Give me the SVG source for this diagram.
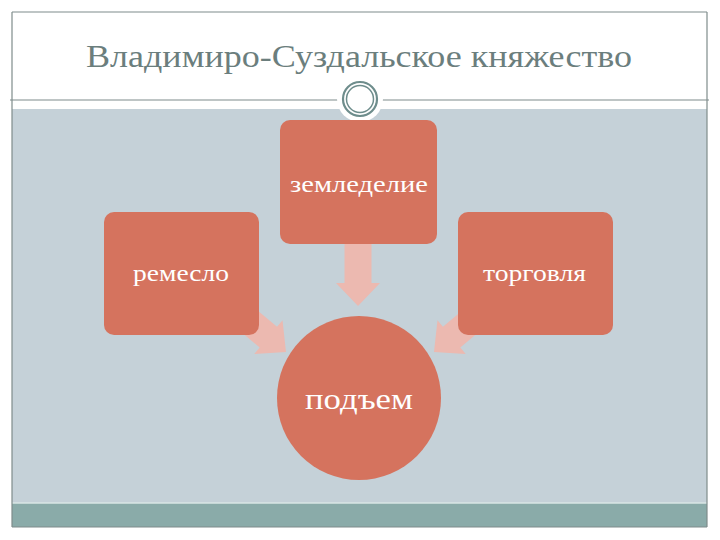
<svg xmlns="http://www.w3.org/2000/svg" width="720" height="540" viewBox="0 0 720 540">
<style>
.node{fill:#D5735E}
.arrow{fill:#ECB9B0}
.lbl{font-family:"Liberation Serif",serif;fill:#FFFFFF}
.frame{stroke:#7F8C8B;stroke-width:1.2;fill:none}
</style>
<defs>
<path id="arr" d="M0,0 L-23,-22 L-23,-13.5 L-62,-13.5 L-62,13.5 L-23,13.5 L-23,22 Z"/>
</defs>
<rect x="0" y="0" width="720" height="540" fill="#FFFFFF"/>
<g id="background">
<rect x="12" y="109" width="695" height="394" fill="#C5D1D8"/>
<rect x="12" y="503" width="695" height="24" fill="#8AABA9"/>
<line x1="12" y1="503" x2="707" y2="503" stroke="#D8E6E6" stroke-width="1.5"/>
<line class="frame" x1="12" y1="12" x2="707" y2="12"/>
<line class="frame" x1="12" y1="12" x2="12" y2="527"/>
<line class="frame" x1="707" y1="12" x2="707" y2="527"/>
<line class="frame" x1="12" y1="527" x2="707" y2="527"/>
<line class="frame" x1="10" y1="100" x2="709" y2="100"/>
<circle cx="360" cy="99" r="23" fill="#FFFFFF"/>
<circle cx="360" cy="99" r="17" fill="none" stroke="#6E8D8C" stroke-width="2.2"/>
<circle cx="360" cy="99" r="13.5" fill="none" stroke="#6E8D8C" stroke-width="1.5"/>
</g>
<g id="title">
<text x="86" y="67" font-family="'Liberation Serif',serif" font-size="32" fill="#6B7E7D" textLength="546" lengthAdjust="spacingAndGlyphs">Владимиро-Суздальское княжество</text>
</g>
<g id="connectors">
<use href="#arr" class="arrow" transform="translate(358,306) rotate(90)"/>
<use href="#arr" class="arrow" transform="translate(286,352) rotate(40)"/>
<use href="#arr" class="arrow" transform="translate(434,352) rotate(140)"/>
</g>
<g id="node-zemledelie">
<rect class="node" x="280" y="120" width="157" height="124" rx="10"/>
<text class="lbl" x="290" y="192" font-size="23" textLength="138" lengthAdjust="spacingAndGlyphs">земледелие</text>
</g>
<g id="node-remeslo">
<rect class="node" x="104" y="212" width="155" height="123" rx="10"/>
<text class="lbl" x="133" y="281" font-size="23" textLength="96" lengthAdjust="spacingAndGlyphs">ремесло</text>
</g>
<g id="node-torgovlya">
<rect class="node" x="458" y="212" width="155" height="123" rx="10"/>
<text class="lbl" x="483" y="281" font-size="23" textLength="103" lengthAdjust="spacingAndGlyphs">торговля</text>
</g>
<g id="node-podyem">
<circle class="node" cx="359" cy="398" r="82"/>
<text class="lbl" x="305" y="409" font-size="29" textLength="108" lengthAdjust="spacingAndGlyphs">подъем</text>
</g>
</svg>
